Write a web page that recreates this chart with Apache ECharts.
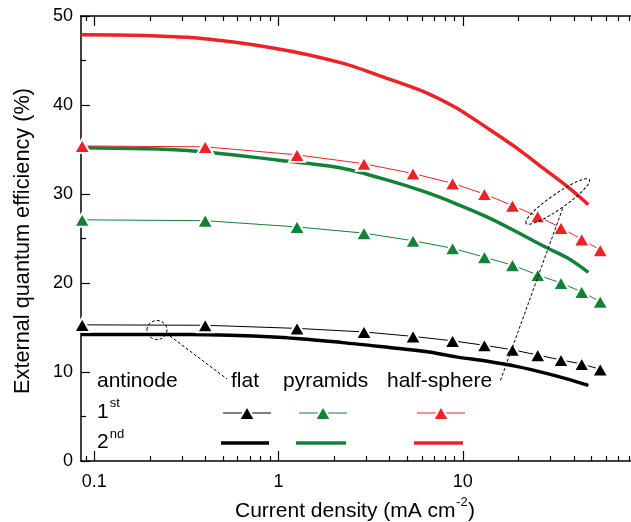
<!DOCTYPE html>
<html><head><meta charset="utf-8">
<script src="https://cdn.jsdelivr.net/npm/echarts@6/dist/echarts.min.js"></script>
<style>html,body{margin:0;padding:0;background:#fff}#c{width:631px;height:522px}</style>
</head><body><div id="c"></div>
<script>
// ---- data ----
const xTri  = [0.086, 0.40, 1.26, 2.91, 5.37, 8.8, 13.1, 18.6, 25.5, 34.1, 44.2, 55.7];
const flat1 = [15.3, 15.25, 14.9, 14.5, 14.0, 13.5, 13.0, 12.5, 11.9, 11.35, 10.9, 10.3];
const pyr1  = [27.1, 27.0, 26.3, 25.6, 24.75, 23.9, 22.9, 22.0, 20.9, 20.0, 19.0, 17.9];
const hs1   = [35.4, 35.3, 34.4, 33.4, 32.3, 31.2, 30.0, 28.7, 27.5, 26.2, 24.9, 23.7];

const xSim  = [0.0847, 0.32, 1.0, 2.22, 4.0, 6.3, 9.2, 13.6, 19.8, 27.7, 37.1, 48.0];
const flat2 = [14.2, 14.2, 13.9, 13.3, 12.75, 12.3, 11.7, 11.2, 10.6, 9.9, 9.2, 8.5];
const pyr2  = [35.2, 34.9, 33.8, 32.9, 31.5, 30.2, 28.9, 27.4, 25.7, 24.1, 22.8, 21.2];
const hs2   = [47.9, 47.6, 46.3, 44.7, 42.9, 41.4, 39.7, 37.4, 35.1, 32.8, 30.8, 28.8];

const xMajor = [0.1, 1, 10];
const xMinor = [0.09, 0.2, 0.3, 0.4, 0.5, 0.6, 0.7, 0.8, 0.9, 2, 3, 4, 5, 6, 7, 8, 9, 20, 30, 40, 50, 60, 70, 80];
const xMin = 0.0847, xMax = 81.8;

const FONT = 'Liberation Sans, Arial, Helvetica, sans-serif';
const RED = '#ec2227', GREEN = '#138238', BLACK = '#000000';

const zip = (xs, ys) => xs.map((x, i) => [x, ys[i]]);

function xAxisDef(pos, ticks, len, showLine, showLabel) {
  return {
    type: 'log', position: pos, min: xMin, max: xMax, gridIndex: 0,
    axisLine: { show: showLine, onZero: false, lineStyle: { color: BLACK, width: 1.5 } },
    axisTick: { show: true, inside: true, length: len, customValues: ticks, lineStyle: { color: BLACK, width: 1.2 } },
    axisLabel: { show: showLabel, customValues: ticks, color: BLACK, fontSize: 18, fontFamily: FONT, margin: 12,
                 formatter: v => String(v) },
    splitLine: { show: false }, minorTick: { show: false }, minorSplitLine: { show: false }
  };
}

function thin(name, ys, color) {
  return {
    name, type: 'line', data: zip(xTri, ys), xAxisIndex: 0, yAxisIndex: 0,
    symbol: 'triangle', symbolSize: [16, 14], showSymbol: true, clip: false,
    lineStyle: { color, width: 1 },
    itemStyle: { color, borderColor: '#ffffff', borderWidth: 2 },
    emphasis: { disabled: true }, z: 3
  };
}
function thick(name, ys, color) {
  return {
    name, type: 'line', data: zip(xSim, ys), xAxisIndex: 0, yAxisIndex: 0,
    symbol: 'none', clip: false, smooth: 0.3,
    lineStyle: { color, width: 3.5, cap: 'butt', join: 'round' },
    emphasis: { disabled: true }, z: 2
  };
}

// measure text for superscripts
const cv = document.createElement('canvas').getContext('2d');
function tw(t, size) { cv.font = size + 'px ' + FONT; return cv.measureText(t).width; }

function txt(t, x, y, size, extra) {
  return Object.assign({ type: 'text', x, y, z: 10,
    style: { text: t, fill: BLACK, fontSize: size, fontFamily: FONT, align: 'left', verticalAlign: 'middle' } }, extra || {});
}
function hline(x1, x2, y, color, w) {
  return { type: 'line', z: 10, shape: { x1, y1: y, x2, y2: y }, style: { stroke: color, lineWidth: w } };
}
function tri(cx, cy, color) {
  return { type: 'polygon', z: 11, shape: { points: [[cx - 8, cy + 7], [cx + 8, cy + 7], [cx, cy - 7]] },
           style: { fill: color, stroke: '#ffffff', lineWidth: 2 } };
}
const dash = { stroke: BLACK, lineWidth: 1, lineDash: [3, 2], fill: null };

const xtStart = 235, xtY = 511;
const xtMain = 'Current density (mA cm';
const wMain = tw(xtMain, 21);
const wSup = tw('-2', 13);

const graphics = [
  // axis titles
  { type: 'text', x: 23, y: 241, rotation: Math.PI / 2, z: 10,
    style: { text: 'External quantum efficiency (%)', fill: BLACK, fontSize: 21.7, fontFamily: FONT, align: 'center', verticalAlign: 'middle' } },
  txt(xtMain, xtStart, xtY, 21),
  txt('-2', xtStart + wMain + 0.5, xtY - 9, 13),
  txt(')', xtStart + wMain + wSup + 1, xtY, 21),
  // legend table
  txt('antinode', 97, 381, 21),
  txt('flat', 231, 381, 21),
  txt('pyramids', 283, 381, 21),
  txt('half-sphere', 387, 381, 21),
  txt('1', 97, 412, 21),
  txt('st', 97 + tw('1', 21) + 1, 403, 13),
  txt('2', 97, 442, 21),
  txt('nd', 97 + tw('2', 21) + 1, 434, 13),
  hline(223, 271, 413, BLACK, 1), tri(247, 413, BLACK),
  hline(299, 347, 413, GREEN, 1), tri(323, 413, GREEN),
  hline(417, 465, 413, RED, 1), tri(441, 413, RED),
  hline(221, 269, 443, BLACK, 3.5),
  hline(296, 346, 443, GREEN, 3.5),
  hline(414, 463, 443, RED, 3.5),
  // annotations
  { type: 'ellipse', z: 12, shape: { cx: 157, cy: 330, rx: 10, ry: 9.5 }, style: dash },
  { type: 'line', z: 12, shape: { x1: 166, y1: 333, x2: 227, y2: 379 }, style: dash },
  { type: 'ellipse', z: 12, x: 557.7, y: 201.5, rotation: 0.607, shape: { cx: 0, cy: 0, rx: 38.5, ry: 7.5 }, style: dash },
  { type: 'line', z: 12, shape: { x1: 562.7, y1: 208.3, x2: 500, y2: 381.7 }, style: dash }
];

const chart = echarts.init(document.getElementById('c'), null, { renderer: 'canvas' });
chart.setOption({
  animation: false,
  backgroundColor: '#ffffff',
  grid: { left: 81, right: 0, top: 16, bottom: 61, containLabel: false },
  xAxis: [
    xAxisDef('bottom', xMajor, 10, true, true),
    xAxisDef('bottom', xMinor, 5, false, false),
    xAxisDef('top', xMajor, 10, true, false),
    xAxisDef('top', xMinor, 5, false, false)
  ],
  yAxis: [{
    type: 'value', min: 0, max: 50, interval: 10,
    axisLine: { show: true, lineStyle: { color: BLACK, width: 1.5 } },
    axisTick: { show: true, inside: true, length: 9, lineStyle: { color: BLACK, width: 1.2 } },
    minorTick: { show: true, splitNumber: 2, length: 5, lineStyle: { color: BLACK, width: 1.2 } },
    axisLabel: { color: BLACK, fontSize: 18, fontFamily: FONT, margin: 8 },
    splitLine: { show: false }
  }],
  series: [
    thick('flat 2nd', flat2, BLACK),
    thick('pyramids 2nd', pyr2, GREEN),
    thick('half-sphere 2nd', hs2, RED),
    thin('flat 1st', flat1, BLACK),
    thin('pyramids 1st', pyr1, GREEN),
    thin('half-sphere 1st', hs1, RED)
  ],
  graphic: { elements: graphics }
});
</script>
</body></html>
